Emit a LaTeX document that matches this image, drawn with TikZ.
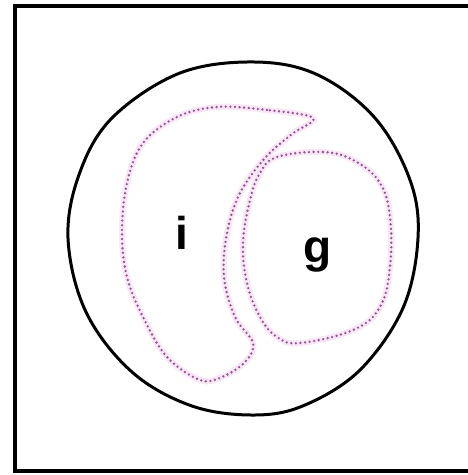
\documentclass[tikz,border=0pt]{standalone}
\usepackage{fontspec}
\setmainfont{Liberation Sans}
\definecolor{dotpink}{RGB}{145,85,145}
\definecolor{halopink}{RGB}{250,230,247}
\tikzset{
  frameline/.style={line width=4pt, black},
  cellline/.style={line width=3pt, black},
  halo/.style={line width=6pt, halopink},
  dotline/.style={line width=2.6pt, dotpink, line cap=round, dash pattern=on 0pt off 4.6pt},
  lbl/.style={font=\fontsize{46}{46}\selectfont\bfseries, inner sep=0pt, anchor=base}
}
\begin{document}
\begin{tikzpicture}[x=1pt,y=-1pt]
\useasboundingbox (0,0) rectangle (468,475);
\clip (0,0) rectangle (468,475);
\fill[white] (0,0) rectangle (468,475);
% frame (right side cut off)
\draw[frameline] (480,6) -- (14.5,6) -- (14.5,471) -- (480,471);
% cell outline
\draw[cellline] plot[smooth cycle, tension=0.6] coordinates {
  (255,62) (318,75) (375,118) (410,180) (418,238) (403,308) (360,370) (305,405)
  (255,415) (192,406) (132,372) (86,312) (68,238) (80,172) (113,117) (180,73)};
% halos
\draw[halo] plot[smooth cycle, tension=0.6] coordinates {
  (313,118) (267,110) (217,107) (177,117) (143,143) (127,183) (122,233)
  (127,277) (143,317) (167,357) (200,380) (222,377) (245,362) (253,343)
  (235,317) (224,277) (227,233) (240,193) (265,158) (292,134)};
\draw[halo] plot[smooth cycle, tension=0.65] coordinates {
  (277,157) (323,152) (355,161) (380,183) (390,217) (390,267) (380,307)
  (353,330) (300,343) (277,337) (260,317) (247,283) (243,243) (250,200) (260,173)};
% i-shape
\draw[dotline] plot[smooth cycle, tension=0.6] coordinates {
  (313,118) (267,110) (217,107) (177,117) (143,143) (127,183) (122,233)
  (127,277) (143,317) (167,357) (200,380) (222,377) (245,362) (253,343)
  (235,317) (224,277) (227,233) (240,193) (265,158) (292,134)};
% g-shape
\draw[dotline] plot[smooth cycle, tension=0.65] coordinates {
  (277,157) (323,152) (355,161) (380,183) (390,217) (390,267) (380,307)
  (353,330) (300,343) (277,337) (260,317) (247,283) (243,243) (250,200) (260,173)};
\node[lbl] (li) at (182,249) {i};
\node[lbl] (lg) at (318,262) {g};
\end{tikzpicture}
\end{document}
